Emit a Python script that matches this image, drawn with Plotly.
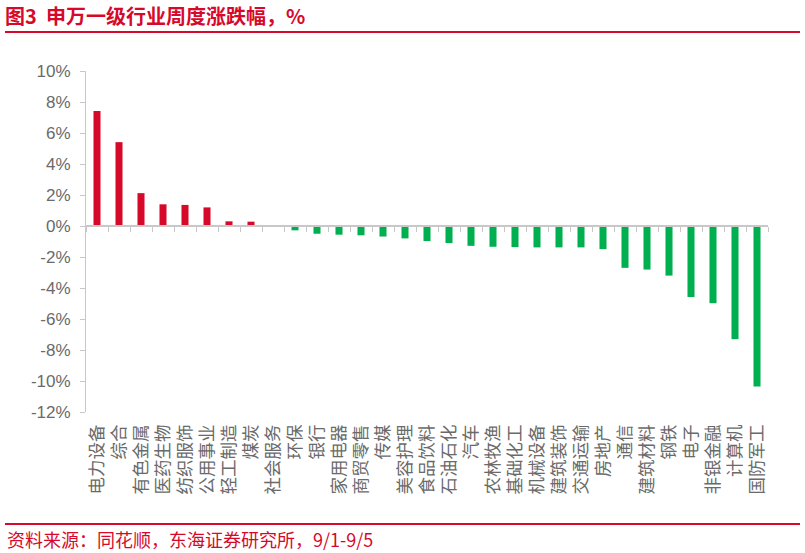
import plotly.graph_objects as go

categories = ["电力设备", "综合", "有色金属", "医药生物", "纺织服饰", "公用事业", "轻工制造", "煤炭",
              "社会服务", "环保", "银行", "家用电器", "商贸零售", "传媒", "美容护理", "食品饮料",
              "石油石化", "汽车", "农林牧渔", "基础化工", "机械设备", "建筑装饰", "交通运输", "房地产",
              "通信", "建筑材料", "钢铁", "电子", "非银金融", "计算机", "国防军工"]
values = [7.42, 5.41, 2.12, 1.40, 1.36, 1.20, 0.30, 0.28,
          0.01, -0.28, -0.50, -0.56, -0.60, -0.68, -0.80, -0.97,
          -1.10, -1.28, -1.34, -1.36, -1.38, -1.38, -1.38, -1.49,
          -2.70, -2.81, -3.20, -4.58, -4.98, -7.30, -10.35]
y_ticks = [10, 8, 6, 4, 2, 0, -2, -4, -6, -8, -10, -12]
y_tick_labels = [f"{v}%" for v in y_ticks]

title_text = "图3&nbsp;&nbsp;申万一级行业周度涨跌幅，%"
source_text = "资料来源：同花顺，东海证券研究所，9/1-9/5"

W, H = 805, 553
ML, MR, MT, MB = 86, 37, 71, 141
PW, PH = W - ML - MR, H - MT - MB
RED = "#D7092B"
GREEN = "#00B050"
GRAY = "#6A6A6A"
AXIS = "#C8C8C8"
CJK = "Noto Sans CJK SC"
NUM = "Liberation Sans, Arial, Noto Sans CJK SC"


def px_x(p):
    return (p - ML) / PW


def px_y(p):
    return 1 - (p - MT) / PH


ymin, ymax = y_ticks[-1], y_ticks[0]
zero_pos = (0 - ymin) / (ymax - ymin)
colors = [RED if v > 0 else GREEN for v in values]

fig = go.Figure()
fig.add_trace(go.Bar(x=categories, y=values, marker=dict(color=colors, line=dict(width=0)),
                     width=0.32, xaxis="x2", yaxis="y", hoverinfo="x+y"))
fig.add_trace(go.Scatter(x=categories, y=[0] * len(categories), mode="markers",
                         marker=dict(opacity=0), xaxis="x", yaxis="y", hoverinfo="skip"))

fig.update_layout(
    width=W, height=H,
    margin=dict(l=ML, r=MR, t=MT, b=MB, pad=0),
    paper_bgcolor="white", plot_bgcolor="white",
    showlegend=False,
    title=dict(text=title_text, xref="container", yref="container",
               x=5 / W, y=1 - 17 / H, xanchor="left", yanchor="middle",
               font=dict(family=CJK, size=20, color=RED, weight="bold")),
    xaxis=dict(type="category", categoryorder="array", categoryarray=categories,
               range=[-0.5, len(categories) - 0.5], showline=False, showgrid=False,
               ticks="", tickangle=-90, ticklabelstandoff=8,
               tickfont=dict(family=CJK, size=17.5, color=GRAY), zeroline=False),
    xaxis2=dict(type="category", categoryorder="array", categoryarray=categories,
                range=[-0.5, len(categories) - 0.5], overlaying="x", anchor="free",
                position=zero_pos, side="bottom", showline=True, linecolor=AXIS, linewidth=2,
                ticks="outside", tickson="boundaries", ticklen=5, tickcolor=AXIS, tickwidth=1,
                showticklabels=False, showgrid=False, zeroline=False),
    yaxis=dict(range=[ymin, ymax], tickvals=y_ticks, ticktext=y_tick_labels,
               showline=True, linecolor=AXIS, linewidth=1, ticks="outside", ticklen=5,
               tickcolor=AXIS, showgrid=False, zeroline=False, ticklabelstandoff=6,
               tickfont=dict(family=NUM, size=17, color=GRAY)),
    shapes=[
        dict(type="line", xref="paper", yref="paper", x0=px_x(5), x1=px_x(800),
             y0=px_y(32), y1=px_y(32), line=dict(color=RED, width=2)),
        dict(type="line", xref="paper", yref="paper", x0=px_x(5), x1=px_x(800),
             y0=px_y(524), y1=px_y(524), line=dict(color=RED, width=2)),
    ],
    annotations=[
        dict(text=source_text, xref="paper", yref="paper", x=px_x(5), y=px_y(539),
             xanchor="left", yanchor="middle", showarrow=False,
             font=dict(family=CJK, size=18, color=RED)),
    ],
)

fig.write_html("out.html", config={"displayModeBar": False},
               post_script="document.body.style.margin='0';document.body.style.overflow='hidden';")
